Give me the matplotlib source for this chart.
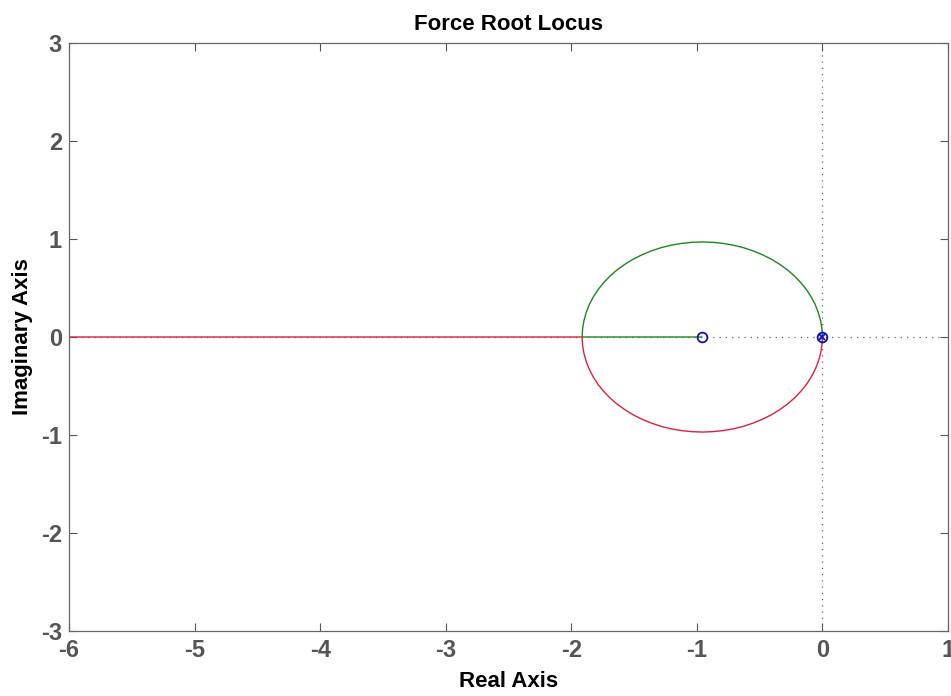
import numpy as np
import matplotlib
matplotlib.use("Agg")
import matplotlib.pyplot as plt

# Root locus branches (real, imag)
# upper branch: double pole at 0 -> round the top -> breakin at -1.91 -> zero at -0.96
upper_re = [0.0, -0.004, -0.015, -0.033, -0.058, -0.090, -0.128, -0.173, -0.224,
            -0.280, -0.342, -0.408, -0.479, -0.553, -0.630, -0.709, -0.791, -0.874,
            -0.957, -1.040, -1.123, -1.205, -1.284, -1.361, -1.436, -1.506, -1.572,
            -1.634, -1.690, -1.741, -1.786, -1.824, -1.856, -1.881, -1.899, -1.910,
            -1.914, -1.50, -0.96]
upper_im = [0.0, 0.085, 0.168, 0.251, 0.332, 0.410, 0.485, 0.556, 0.624,
            0.686, 0.743, 0.795, 0.840, 0.879, 0.912, 0.937, 0.955, 0.966,
            0.970, 0.966, 0.955, 0.937, 0.912, 0.879, 0.840, 0.795, 0.743,
            0.686, 0.624, 0.556, 0.485, 0.410, 0.332, 0.251, 0.168, 0.085,
            0.0, 0.0, 0.0]
# lower branch: same circle below the axis, then off to -infinity
lower_re = upper_re[:37] + [-4.0, -6.0]
lower_im = [-v for v in upper_im[:37]] + [0.0, 0.0]

zeros_re = [-0.96, 0.0]
poles_re = [0.0]

x_ticks = [-6, -5, -4, -3, -2, -1, 0, 1]
y_ticks = [-3, -2, -1, 0, 1, 2, 3]

plt.rcParams['font.family'] = ['Liberation Sans', 'DejaVu Sans']
plt.rcParams['axes.unicode_minus'] = False
fig = plt.figure(figsize=(9.51, 6.96), dpi=100)
ax = fig.add_axes([69 / 951, 1 - 631 / 696, 879 / 951, 588 / 696])

# dotted axes through the origin
ax.axhline(0, color='#666666', linestyle=(0, (1, 4)), linewidth=0.9, zorder=1)
ax.axvline(0, color='#666666', linestyle=(0, (1, 4)), linewidth=0.9, zorder=1)

ax.plot(upper_re, upper_im, color='#1a8a1a', linewidth=1.0, zorder=2)
ax.plot(lower_re, lower_im, color='#e0203a', linewidth=1.0, zorder=2)

ax.plot(zeros_re, [0] * len(zeros_re), 'o', markersize=7, markerfacecolor='none',
        markeredgecolor='#1010c0', markeredgewidth=1.3, zorder=3)
ax.plot(poles_re, [0] * len(poles_re), 'x', markersize=4,
        color='#1010c0', markeredgewidth=1.3, zorder=3)

ax.set_xlim(-6, 1)
ax.set_ylim(-3, 3)
ax.set_xticks(x_ticks)
ax.set_yticks(y_ticks)
ax.tick_params(direction='in', length=6, width=0.8, color='#555555',
               labelcolor='#555555', labelsize=17, top=True, right=True)
ax.tick_params(axis='x', pad=6)
ax.tick_params(axis='y', pad=5)
for lbl in ax.get_xticklabels() + ax.get_yticklabels():
    lbl.set_fontweight('bold')
for s in ax.spines.values():
    s.set_color('#666666')
    s.set_linewidth(0.9)

ax.set_title("Force Root Locus", fontsize=16, fontweight='bold', pad=9)
ax.set_xlabel("Real Axis", fontsize=16, fontweight='bold', labelpad=6)
ax.set_ylabel("Imaginary Axis", fontsize=16, fontweight='bold', labelpad=6)

plt.savefig("out.png", dpi=100)
